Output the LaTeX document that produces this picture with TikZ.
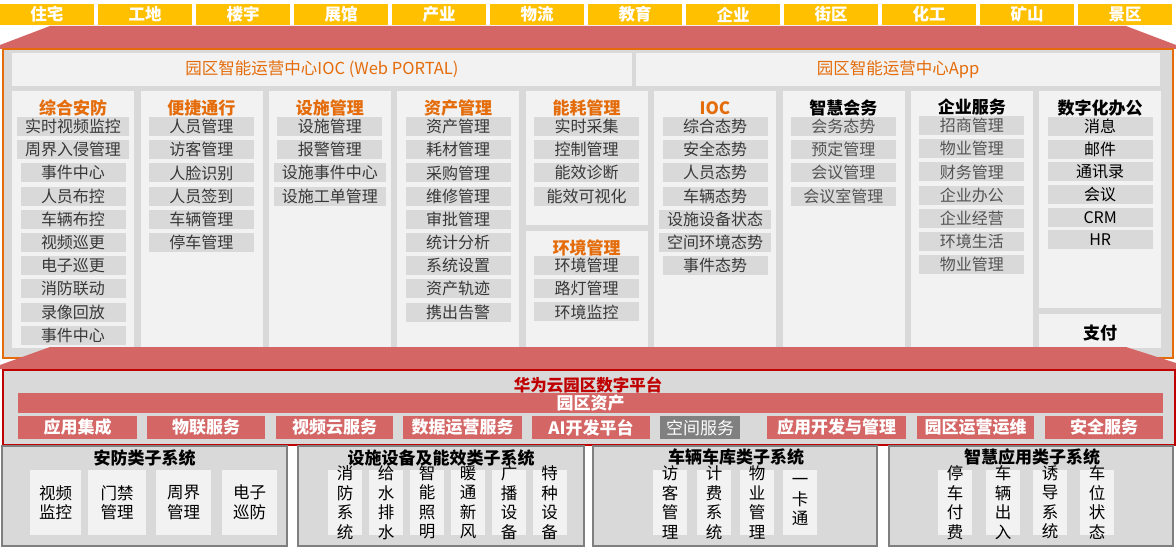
\documentclass[tikz,border=0pt]{standalone}
\usepackage{fontspec}
\setmainfont{Noto Sans CJK SC}
\usepackage{tikz}
\usetikzlibrary{positioning}
\definecolor{zoneyellow}{RGB}{255,192,0}
\definecolor{roofred}{RGB}{212,102,102}
\definecolor{iocorange}{RGB}{228,108,10}
\definecolor{panelgray}{RGB}{217,217,217}
\definecolor{cardgray}{RGB}{242,242,242}
\definecolor{platred}{RGB}{192,0,0}
\definecolor{spacegray}{RGB}{128,128,128}
\definecolor{itemtext}{RGB}{56,56,56}
\definecolor{itemlight}{RGB}{84,84,84}
\definecolor{bordergray}{RGB}{127,127,127}

\begin{document}
\begin{tikzpicture}[
    x=1pt, y=-1pt,
    every node/.style={align=center, inner sep=0pt},
    zone/.style={rectangle, fill=zoneyellow, minimum width=94pt, minimum height=21pt, text=white, font=\bfseries\fontsize{16.5}{18}\selectfont},
    colcard/.style={rectangle, fill=cardgray, minimum width=122pt, anchor=north west},
    colhead/.style={font=\bfseries\fontsize{17}{18}\selectfont, text=iocorange},
    item/.style={rectangle, fill=panelgray, minimum width=105pt, minimum height=19pt, inner xsep=8pt, text=itemtext, font=\fontsize{16}{18}\selectfont},
    portal/.style={rectangle, fill=cardgray, minimum height=33pt, text=iocorange, font=\fontsize{16.5}{18}\selectfont},
    service/.style={rectangle, fill=roofred, minimum height=23pt, text=white, font=\bfseries\fontsize{17}{18}\selectfont},
    subsys/.style={rectangle, fill=panelgray, draw=bordergray, line width=1.5pt, minimum height=100pt},
    subtitle/.style={font=\bfseries\fontsize{17}{18}\selectfont},
    devtext/.style={font=\fontsize{16.5}{19.5}\selectfont},
    device/.style={rectangle, fill=cardgray, minimum height=65pt}
]
\useasboundingbox (0,0) rectangle (1176,548);
\fill[white] (0,0) rectangle (1176,548);

% Scene bar
\foreach \z [count=\i from 0] in {住宅,工地,楼宇,展馆,产业,物流,教育,企业,街区,化工,矿山,景区}
  \node[zone] (zone\i) at ({47+98*\i},14.5) {\z};

% Application layer
\fill[roofred] (0,49) -- (0,45) -- (50,26) -- (1126,26) -- (1176,45) -- (1176,49) -- cycle;
\node[draw=iocorange, line width=2pt, fill=panelgray, minimum width=1170pt, minimum height=309pt, anchor=north west] (frame) at (2,48) {};
\node[portal, minimum width=620pt] (webportal) at (322,69.5) {园区智能运营中心IOC (Web PORTAL)};
\node[portal, minimum width=524pt] (appportal) at (898,69.5) {园区智能运营中心App};

% Column 1
\node[colcard, minimum height=257pt] (col1) at (12,91) {};
\node[colhead] (head1) at (73,108) {综合安防};
\foreach \t [count=\k] in {实时视频监控,周界入侵管理,事件中心,人员布控,车辆布控,视频巡更,电子巡更,消防联动,录像回放,事件中心}
  \node[item] (item1-\k) at (73,{126.5+23.2*(\k-1)}) {\t};

% Column 2
\node[colcard, minimum height=257pt] (col2) at (140.4,91) {};
\node[colhead] (head2) at (201.4,108) {便捷通行};
\foreach \t [count=\k] in {人员管理,访客管理,人脸识别,人员签到,车辆管理,停车管理}
  \node[item] (item2-\k) at (201.4,{126.5+23.2*(\k-1)}) {\t};

% Column 3
\node[colcard, minimum height=257pt] (col3) at (268.8,91) {};
\node[colhead] (head3) at (329.8,108) {设施管理};
\foreach \t [count=\k] in {设施管理,报警管理,设施事件中心,设施工单管理}
  \node[item] (item3-\k) at (329.8,{126.5+23.2*(\k-1)}) {\t};

% Column 4
\node[colcard, minimum height=257pt] (col4) at (397.2,91) {};
\node[colhead] (head4) at (458.2,108) {资产管理};
\foreach \t [count=\k] in {资产管理,耗材管理,采购管理,维修管理,审批管理,统计分析,系统设置,资产轨迹,携出告警}
  \node[item] (item4-\k) at (458.2,{126.5+23.2*(\k-1)}) {\t};

% Column 5
\node[colcard, minimum height=134pt] (col5) at (525.6,91) {};
\node[colhead] (head5) at (586.6,108) {能耗管理};
\foreach \t [count=\k] in {实时采集,控制管理,能效诊断,能效可视化}
  \node[item] (item5-\k) at (586.6,{126.5+23.2*(\k-1)}) {\t};
\node[colcard, minimum height=117pt] (col5b) at (525.6,231) {};
\node[colhead] (head5b) at (586.6,248) {环境管理};
\foreach \t [count=\k] in {环境管理,路灯管理,环境监控}
  \node[item] (item5b-\k) at (586.6,{265.5+23.2*(\k-1)}) {\t};

% Column 6
\node[colcard, minimum height=257pt] (col6) at (654,91) {};
\node[colhead] (head6) at (715,108) {IOC};
\foreach \t [count=\k] in {综合态势,安全态势,人员态势,车辆态势,设施设备状态,空间环境态势,事件态势}
  \node[item] (item6-\k) at (715,{126.5+23.2*(\k-1)}) {\t};

% Column 7
\node[colcard, minimum height=257pt] (col7) at (782.4,91) {};
\node[colhead, text=black] (head7) at (843.4,108) {智慧会务};
\foreach \t [count=\k] in {会务态势,预定管理,会议管理,会议室管理}
  \node[item, text=itemlight] (item7-\k) at (843.4,{126.5+23.2*(\k-1)}) {\t};

% Column 8
\node[colcard, minimum height=257pt] (col8) at (910.8,91) {};
\node[colhead, text=black] (head8) at (971.8,107) {企业服务};
\foreach \t [count=\k] in {招商管理,物业管理,财务管理,企业办公,企业经营,环境生活,物业管理}
  \node[item, text=itemlight] (item8-\k) at (971.8,{125.5+23.2*(\k-1)}) {\t};

% Column 9
\node[colcard, minimum height=217pt] (col9) at (1039.2,91) {};
\node[colhead, text=black] (head9) at (1100.2,108) {数字化办公};
\foreach \t [count=\k] in {消息,邮件,通讯录,会议,CRM,HR}
  \node[item, text=black] (item9-\k) at (1100.2,{126.5+22.7*(\k-1)}) {\t};
\node[colcard, minimum height=34pt] (col9b) at (1039.2,314) {};
\node[colhead, text=black] (pay) at (1100.2,333) {支付};

% Platform layer
\fill[roofred] (0,369) -- (0,365) -- (50,347) -- (1126,347) -- (1176,363) -- (1176,369) -- cycle;
\node[draw=platred, line width=2pt, fill=panelgray, minimum width=1172pt, minimum height=75pt, anchor=north west] (platform) at (2,369) {};
\node[font=\bfseries\fontsize{16.5}{18}\selectfont, text=platred] (platname) at (588,385) {华为云园区数字平台};
\node[service, minimum width=1145, minimum height=20pt] (assets) at (590.5,403) {园区资产};
\foreach \x/\w/\t [count=\s] in {77.5/119/应用集成, 206/118/物联服务, 334.5/117/视频云服务, 462.5/119/数据运营服务, 591/118/AI开发平台, 836.5/139/应用开发与管理, 975.5/117/园区运营运维, 1104/118/安全服务}
  \node[service, minimum width=\w] (service\s) at (\x,427.5) {\t};
\node[service, fill=spacegray, minimum width=80, font=\fontsize{17}{18}\selectfont] (spacesvc) at (700,427.5) {空间服务};

% Subsystems
\node[subsys, minimum width=285] (sub1) at (144.5,496) {};
\node[subsys, minimum width=286] (sub2) at (441,496) {};
\node[subsys, minimum width=284] (sub3) at (735,496) {};
\node[subsys, minimum width=284] (sub4) at (1031,496) {};
\node[subtitle] (title1) at (144.5,458) {安防类子系统};
\node[subtitle] (title2) at (441,458) {设施设备及能效类子系统};
\node[subtitle] (title3) at (736,457) {车辆车库类子系统};
\node[subtitle] (title4) at (1032,457) {智慧应用类子系统};

\foreach \x/\w/\t [count=\s] in {55.5/51/视频\\监控, 117/58/门禁\\管理, 183.5/55/周界\\管理, 249.5/55/电子\\巡防}
  \node[device, minimum width=\w, label={[devtext]center:\t}] (secdev\s) at (\x,502.5) {};
\foreach \x/\t [count=\s] in {345/消\\防\\系\\统, 386/给\\水\\排\\水, 427/智\\能\\照\\明, 468/暖\\通\\新\\风, 509/广\\播\\设\\备, 549.5/特\\种\\设\\备}
  \node[device, minimum width=34, label={[devtext]center:\t}] (facdev\s) at (\x,502.5) {};
\foreach \x/\t [count=\s] in {670/访\\客\\管\\理, 714/计\\费\\系\\统, 757/物\\业\\管\\理, 800/一\\卡\\通}
  \node[device, minimum width=34, label={[devtext]center:\t}] (cardev\s) at (\x,502.5) {};
\foreach \x/\t [count=\s] in {955/停\\车\\付\\费, 1003/车\\辆\\出\\入, 1050/诱\\导\\系\\统, 1097/车\\位\\状\\态}
  \node[device, minimum width=34, label={[devtext]center:\t}] (appdev\s) at (\x,502.5) {};

\end{tikzpicture}
\end{document}
